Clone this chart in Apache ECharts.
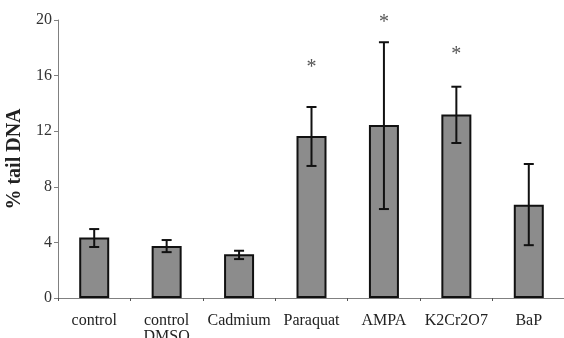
<!DOCTYPE html>
<html>
<head>
<meta charset="UTF-8">
<title>% tail DNA</title>
<script type="text/javascript" src="https://cdn.jsdelivr.net/npm/echarts@6/dist/echarts.min.js"></script>
<style>
	html, body { margin: 0; padding: 0; background: #fff; }
</style>
</head>
<body>
	<div id="main" style="width: 564px; height: 338px;"></div>

	<script type="text/javascript">
	// data
	var categories = ['control', 'control\nDMSO', 'Cadmium', 'Paraquat', 'AMPA', 'K2Cr2O7', 'BaP'];
	var means = [4.35, 3.75, 3.15, 11.65, 12.45, 13.2, 6.7];
	var errLow = [3.67, 3.3, 2.8, 9.5, 6.4, 11.15, 3.8];
	var errHigh = [4.96, 4.17, 3.4, 13.74, 18.4, 15.2, 9.64];
	var starY = [null, null, null, 16.6, 19.8, 17.5, null];
	var yTicks = [0, 4, 8, 12, 16, 20];

	var chart = echarts.init(document.getElementById('main'));

	var errData = [];
	var starData = [];
	for (var i = 0; i < categories.length; i++) {
		errData.push([i, errLow[i], errHigh[i]]);
		if (starY[i] != null) starData.push([i, starY[i]]);
	}

	var font = 'Liberation Serif';

	var option = {
		animation: false,
		grid: { left: 58, right: -1, top: 20, bottom: 40, outerBoundsMode: 'none', containLabel: false },
		xAxis: {
			type: 'category',
			data: categories,
			axisLine: { lineStyle: { color: '#808080', width: 1 } },
			axisTick: { show: true, length: 3, lineStyle: { color: '#555' } },
			axisLabel: {
				fontFamily: font, fontSize: 16, color: '#222',
				margin: 15, lineHeight: 16, interval: 0
			}
		},
		yAxis: {
			type: 'value',
			min: yTicks[0],
			max: yTicks[yTicks.length - 1],
			interval: 4,
			name: '% tail DNA',
			nameLocation: 'middle',
			nameGap: 26,
			nameTextStyle: { fontFamily: font, fontSize: 20, fontWeight: 'bold', color: '#222' },
			axisLine: { show: true, lineStyle: { color: '#808080', width: 1 } },
			axisTick: { show: true, length: 4, lineStyle: { color: '#808080' } },
			splitLine: { show: false },
			axisLabel: { fontFamily: font, fontSize: 16, color: '#333', margin: 6 }
		},
		series: [{
			type: 'bar',
			data: means,
			barWidth: 30,
			itemStyle: { color: '#8c8c8c', borderColor: '#111', borderWidth: 2 }
		}, {
			type: 'custom',
			data: errData,
			z: 5,
			renderItem: function (params, api) {
				var x = api.coord([api.value(0), api.value(1)])[0];
				var lo = api.coord([api.value(0), api.value(1)])[1];
				var hi = api.coord([api.value(0), api.value(2)])[1];
				var half = 5;
				var st = { stroke: '#111', lineWidth: 2 };
				return {
					type: 'group',
					children: [
						{ type: 'line', shape: { x1: x, y1: hi, x2: x, y2: lo }, style: st },
						{ type: 'line', shape: { x1: x - half, y1: hi, x2: x + half, y2: hi }, style: st },
						{ type: 'line', shape: { x1: x - half, y1: lo, x2: x + half, y2: lo }, style: st }
					]
				};
			}
		}, {
			type: 'custom',
			data: starData,
			z: 6,
			renderItem: function (params, api) {
				var p = api.coord([api.value(0), api.value(1)]);
				return {
					type: 'text',
					style: {
						x: p[0], y: p[1], text: '*',
						fill: '#555', font: '20px ' + font,
						align: 'center', verticalAlign: 'middle'
					}
				};
			}
		}]
	};

	chart.setOption(option);
	</script>
</body>
</html>
